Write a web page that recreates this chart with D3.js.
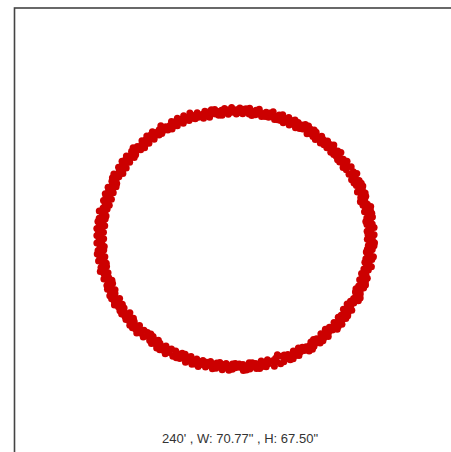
<!DOCTYPE html>
<html>
<head>
<meta charset="utf-8">
<script src="https://cdn.jsdelivr.net/npm/d3@7"></script>
<style>
  html, body { margin: 0; padding: 0; background: #fff; }
  svg { display: block; }
</style>
</head>
<body>
<div id="chart"></div>
<script>
// ── 데이터 ──────────────────────────────────────────────
// 각 점: 12시 방향 기준 시계방향 각도(deg), 중심으로부터 거리(inch)
const ANGLES = [
  0.4, 1.9, 3.3, 4.6, 6.2, 7.5, 9.1, 10.4, 12.0, 13.6,
  15.2, 16.5, 18.1, 19.4, 20.8, 22.3, 23.7, 25.2, 26.6, 28.3,
  30.1, 31.4, 32.9, 34.2, 35.8, 37.1, 38.7, 40.0, 41.5, 43.2,
  45.0, 46.3, 47.7, 49.3, 50.6, 52.2, 53.5, 55.1, 56.4, 58.0,
  60.3, 61.6, 63.0, 64.7, 66.1, 67.4, 68.9, 70.5, 71.8, 73.4,
  75.2, 76.5, 78.1, 79.3, 80.9, 82.4, 83.7, 85.3, 86.6, 88.2,
  90.1, 91.5, 92.8, 94.4, 95.7, 97.3, 98.6, 100.2, 101.5, 103.1,
  105.3, 106.6, 108.2, 109.5, 110.9, 112.4, 113.8, 115.3, 116.7, 118.4,
  120.2, 121.5, 123.1, 124.4, 125.8, 127.3, 128.7, 130.3, 131.6, 133.2,
  135.1, 136.4, 138.0, 139.3, 140.9, 142.2, 143.8, 145.1, 146.7, 148.3,
  150.0, 151.4, 152.7, 154.3, 155.6, 157.2, 158.5, 160.1, 161.4, 163.0,
  165.2, 166.5, 168.1, 169.4, 170.8, 172.3, 173.7, 175.2, 176.6, 178.3,
  180.1, 181.4, 182.9, 184.3, 185.8, 187.2, 188.6, 190.1, 191.5, 193.2,
  195.0, 196.3, 197.9, 199.2, 200.7, 202.1, 203.6, 205.0, 206.5, 208.1,
  210.2, 211.5, 213.0, 214.4, 215.9, 217.3, 218.8, 220.2, 221.7, 223.3,
  225.1, 226.4, 228.0, 229.3, 230.8, 232.2, 233.7, 235.1, 236.6, 238.2,
  240.0, 241.4, 242.8, 244.3, 245.7, 247.2, 248.6, 250.1, 251.5, 253.1,
  255.2, 256.5, 258.0, 259.4, 260.9, 262.3, 263.8, 265.2, 266.7, 268.3,
  270.1, 271.4, 272.9, 274.3, 275.8, 277.2, 278.7, 280.1, 281.6, 283.2,
  285.0, 286.3, 287.8, 289.2, 290.7, 292.1, 293.6, 295.0, 296.5, 298.1,
  300.2, 301.5, 303.0, 304.4, 305.9, 307.3, 308.8, 310.2, 311.7, 313.3,
  315.1, 316.4, 317.9, 319.3, 320.8, 322.2, 323.7, 325.1, 326.6, 328.2,
  330.0, 331.4, 332.8, 334.3, 335.7, 337.2, 338.6, 340.1, 341.5, 343.1,
  345.2, 346.5, 348.0, 349.4, 350.9, 352.3, 353.8, 355.2, 356.7, 358.3,
];

// 첫 번째 측정값 (링 가운데 부근)
const RADII = [
  33.9, 33.2, 34.1, 33.5, 33.0, 33.8, 34.2, 33.4, 33.7, 33.1,
  34.3, 33.5, 33.9, 34.5, 33.3, 34.0, 33.6, 34.4, 33.8, 33.2,
  34.6, 33.8, 34.2, 34.9, 34.0, 33.7, 34.5, 34.1, 34.8, 33.9,
  35.1, 34.4, 34.9, 35.4, 34.2, 34.7, 35.2, 34.5, 35.0, 34.3,
  35.6, 34.9, 35.3, 35.9, 34.7, 35.1, 35.7, 35.0, 34.6, 35.4,
  35.8, 35.1, 36.2, 35.4, 34.9, 35.7, 36.1, 35.2, 35.6, 34.8,
  35.9, 35.3, 34.9, 36.0, 35.5, 35.0, 36.2, 35.6, 35.1, 35.8,
  35.5, 34.8, 35.9, 35.2, 34.6, 35.4, 35.8, 35.0, 34.7, 35.3,
  35.0, 34.4, 35.3, 34.7, 34.2, 35.1, 34.6, 35.4, 34.5, 34.9,
  34.6, 34.0, 34.8, 34.2, 33.7, 34.5, 34.9, 34.1, 33.8, 34.4,
  34.2, 33.6, 34.4, 33.9, 33.3, 34.1, 34.6, 32.3, 34.0, 33.4,
  33.9, 33.3, 34.2, 33.6, 33.1, 33.8, 34.3, 33.5, 33.0, 33.7,
  33.8, 34.2, 33.4, 33.9, 33.1, 33.7, 34.3, 33.5, 33.9, 33.2,
  34.1, 33.5, 34.5, 33.8, 34.2, 33.4, 34.0, 34.6, 33.7, 33.3,
  34.5, 33.9, 34.8, 34.2, 33.8, 34.6, 34.0, 34.9, 34.3, 33.7,
  35.0, 34.5, 35.3, 34.7, 34.3, 35.2, 34.6, 35.4, 34.9, 34.4,
  35.5, 34.9, 35.8, 35.2, 34.7, 35.6, 35.0, 35.9, 35.3, 34.8,
  35.7, 35.2, 36.1, 35.5, 35.0, 35.9, 35.3, 36.2, 35.6, 35.1,
  35.8, 35.3, 36.0, 35.4, 35.9, 35.1, 36.2, 35.5, 35.0, 35.7,
  35.4, 34.9, 35.7, 35.1, 35.6, 34.8, 35.3, 35.8, 35.0, 34.7,
  35.3, 34.7, 35.5, 35.0, 35.6, 34.9, 35.2, 35.7, 34.8, 35.4,
  34.9, 34.3, 35.1, 34.6, 35.2, 34.4, 34.8, 35.0, 34.2, 34.7,
  34.4, 33.8, 34.6, 34.1, 34.5, 33.9, 34.3, 33.7, 34.2, 34.6,
  33.9, 33.4, 34.1, 33.6, 33.2, 33.8, 34.0, 33.5, 33.9, 33.3,
];

// 두 번째 측정값 (같은 각도, 링 안쪽/바깥쪽 가장자리)
const RADII_2 = [
  32.8, 34.4, 32.9, 34.3, 34.5, 32.7, 33.0, 34.6, 32.9, 34.2,
  33.1, 34.8, 33.0, 33.2, 34.9, 33.0, 34.8, 33.1, 34.9, 34.7,
  33.5, 35.2, 35.3, 33.4, 35.3, 35.1, 33.5, 35.2, 33.6, 35.3,
  33.9, 35.7, 33.8, 34.0, 35.8, 33.9, 34.0, 35.7, 33.9, 35.8,
  34.3, 36.2, 34.2, 34.4, 36.1, 36.2, 34.3, 36.1, 36.0, 34.2,
  34.6, 36.5, 34.6, 36.4, 36.4, 34.5, 34.7, 36.5, 34.6, 36.4,
  34.6, 36.5, 36.4, 34.7, 34.5, 36.5, 34.6, 34.5, 36.4, 34.6,
  34.3, 36.1, 34.3, 36.2, 36.0, 34.2, 34.4, 36.2, 36.1, 34.3,
  33.9, 35.8, 33.8, 35.7, 35.7, 33.9, 35.8, 33.9, 35.7, 33.8,
  33.4, 35.3, 33.5, 35.2, 35.2, 33.4, 33.5, 35.3, 35.2, 33.4,
  33.0, 34.8, 33.1, 34.9, 34.8, 33.0, 33.1, 34.8, 33.0, 34.9,
  32.8, 34.5, 32.7, 34.6, 34.4, 32.8, 32.7, 34.5, 34.6, 32.8,
  32.7, 32.8, 34.5, 32.8, 34.5, 32.7, 32.9, 34.6, 32.8, 34.5,
  33.0, 34.9, 33.1, 34.8, 33.0, 34.9, 33.0, 33.1, 34.8, 34.9,
  33.4, 35.3, 33.5, 35.2, 35.3, 33.4, 35.2, 33.5, 33.4, 35.3,
  33.9, 35.8, 33.9, 35.7, 35.8, 33.9, 35.7, 33.8, 35.8, 35.7,
  34.3, 36.2, 34.2, 36.1, 36.2, 34.3, 36.1, 34.3, 34.2, 36.1,
  34.6, 36.5, 34.6, 34.5, 36.4, 34.6, 36.5, 34.7, 34.5, 36.4,
  34.6, 36.4, 34.7, 36.5, 34.5, 36.4, 34.6, 34.5, 36.5, 34.6,
  34.3, 36.1, 34.2, 36.2, 34.3, 36.1, 34.2, 34.4, 36.1, 36.2,
  34.2, 36.0, 34.2, 36.1, 34.3, 36.0, 34.1, 34.3, 36.0, 34.2,
  33.8, 35.6, 33.9, 35.7, 33.8, 35.6, 33.9, 33.8, 35.6, 33.7,
  33.3, 35.1, 33.4, 35.2, 33.3, 35.1, 33.4, 35.2, 33.3, 33.4,
  32.8, 34.5, 32.7, 34.5, 34.4, 32.8, 32.7, 34.4, 32.8, 34.5,
];

const LABEL_ANGLE = "240'";
const LABEL_W = '70.77"';
const LABEL_H = '67.50"';

// ── 설정 ──────────────────────────────────────────────
const W = 451, H = 452;
const CX = 235.5, CY = 239;   // 링 중심 (px)
const PX_PER_IN = 3.81;
const DOT_COLOR = '#cc0000';

const svg = d3.select('#chart').append('svg')
  .attr('width', W)
  .attr('height', H);

// 플롯 테두리 (왼쪽/위쪽만 화면에 보임)
svg.append('rect')
  .attr('x', 14.5).attr('y', 8)
  .attr('width', 500).attr('height', 500)
  .attr('fill', 'none')
  .attr('stroke', '#444')
  .attr('stroke-width', 1.6);

// ── 스케일 ─────────────────────────────────────────────
const x = d3.scaleLinear().domain([-50, 50]).range([CX - 50 * PX_PER_IN, CX + 50 * PX_PER_IN]);
const y = d3.scaleLinear().domain([-50, 50]).range([CY - 50 * PX_PER_IN, CY + 50 * PX_PER_IN]);
const angle = d3.scaleLinear().domain([0, 360]).range([0, 2 * Math.PI]);

const points = [
  ...ANGLES.map((a, i) => d3.pointRadial(angle(a), RADII_2[i])),
  ...ANGLES.map((a, i) => d3.pointRadial(angle(a), RADII[i])),
];

svg.append('g')
  .selectAll('circle')
  .data(points)
  .join('circle')
  .attr('cx', d => x(d[0]))
  .attr('cy', d => y(d[1]))
  .attr('r', 3.5)
  .attr('fill', DOT_COLOR);

// ── 라벨 ──────────────────────────────────────────────
svg.append('text')
  .attr('x', 240)
  .attr('y', 443)
  .attr('text-anchor', 'middle')
  .attr('font-family', '"Liberation Sans", Arial, sans-serif')
  .attr('font-size', 13)
  .attr('fill', '#333')
  .text(`${LABEL_ANGLE} , W: ${LABEL_W} , H: ${LABEL_H}`);
</script>
</body>
</html>
